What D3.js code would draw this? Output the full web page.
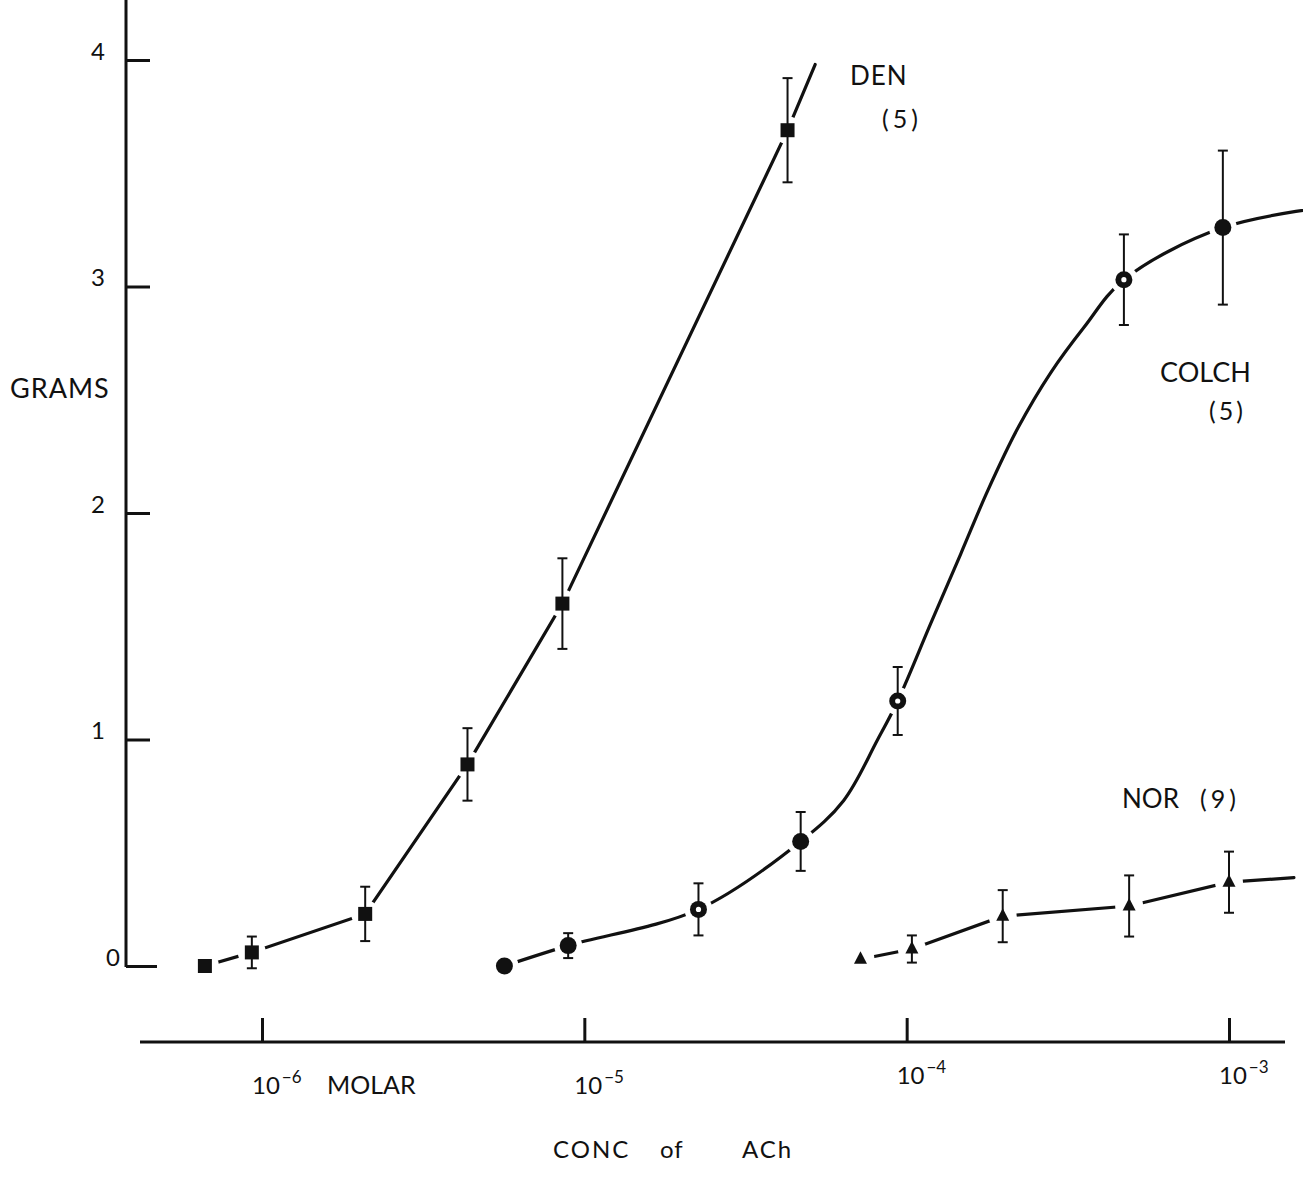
<!DOCTYPE html>
<html>
<head>
<meta charset="utf-8">
<script src="https://d3js.org/d3.v7.min.js"></script>
<style>
  body { margin: 0; background: #fff; }
  svg text { font-family: Lato, "Open Sans", sans-serif; fill: #111; }
</style>
</head>
<body>
<svg id="chart" width="1303" height="1185"></svg>
<script>

// DEN (5) -- squares
var den_conc  = [6.65e-7, 9.3e-7, 2.09e-6, 4.34e-6, 8.55e-6, 4.27e-5];
var den_grams = [0, 0.06, 0.23, 0.89, 1.60, 3.69];
var den_err   = [0, 0.07, 0.12, 0.16, 0.20, 0.23];
// drawn line (through the points, runs on past the last one)
var den_line_conc  = [6.65e-7, 9.3e-7, 2.09e-6, 4.34e-6, 8.55e-6, 4.27e-5, 5.2e-5];
var den_line_grams = [0, 0.06, 0.23, 0.89, 1.60, 3.69, 3.98];

// COLCH (5) -- circles
var colch_conc  = [5.65e-6, 8.91e-6, 2.26e-5, 4.69e-5, 9.38e-5, 4.72e-4, 9.57e-4];
var colch_grams = [0, 0.09, 0.25, 0.55, 1.17, 3.03, 3.26];
var colch_err   = [0, 0.055, 0.115, 0.13, 0.15, 0.20, 0.34];
var colch_hollow = [2, 4, 5];
// hand drawn curve
var colch_line_conc  = [5.65e-6, 8.91e-6, 2.26e-5, 4.69e-5, 6.37e-5, 8.13e-5, 9.38e-5, 1.186e-4,
                        1.472e-4, 1.786e-4, 2.213e-4, 2.80e-4, 3.55e-4, 4.72e-4, 9.57e-4, 2.23e-3];
var colch_line_grams = [0, 0.09, 0.25, 0.55, 0.73, 1.00, 1.17, 1.51,
                        1.82, 2.10, 2.375, 2.62, 2.82, 3.03, 3.26, 3.36];

// NOR (9) -- triangles
var nor_conc  = [7.19e-5, 1.038e-4, 1.986e-4, 4.90e-4, 1.0e-3];
var nor_grams = [0.03, 0.075, 0.22, 0.265, 0.37];
var nor_err   = [0, 0.06, 0.115, 0.135, 0.135];
var nor_line_conc  = [7.19e-5, 1.038e-4, 1.986e-4, 4.90e-4, 1.0e-3, 1.59e-3];
var nor_line_grams = [0.03, 0.075, 0.22, 0.265, 0.37, 0.39];

var y_ticks = [0, 1, 2, 3, 4];
var x_ticks = [1e-6, 1e-5, 1e-4, 1e-3];
var x_tick_exp = ["\u22126", "\u22125", "\u22124", "\u22123"];


var svg = d3.select("#chart");

var x = d3.scaleLog()
    .domain([1e-6, 1e-3])
    .range([262, 1229]);

var y = d3.scaleLinear()
    .domain([0, 4])
    .range([966, 60]);

var axis_x0 = 126;
var axis_y0 = 1042;

// y axis
svg.append("line")
    .attr("x1", axis_x0).attr("x2", axis_x0)
    .attr("y1", y(0) + 1).attr("y2", y(4.27))
    .attr("stroke", "#111").attr("stroke-width", 3);

var gy = svg.append("g")
    .attr("transform", "translate(" + axis_x0 + ",0)")
    .call(d3.axisLeft(y).tickValues(y_ticks).tickSize(-24).tickPadding(22).tickFormat(d3.format("d")));
gy.select(".domain").remove();
gy.selectAll(".tick line").attr("stroke", "#111").attr("stroke-width", 3)
    .attr("x2", function(d) { return d == 0 ? 31 : 24; });
gy.selectAll(".tick text")
    .attr("font-size", 24)
    .attr("font-family", "Lato, sans-serif")
    .attr("fill", "#111")
    .attr("dy", null)
    .attr("y", -1)
    .attr("x", function(d) { return d == 0 ? -6 : -21; });

svg.append("text")
    .attr("x", 10).attr("y", 398)
    .attr("font-size", 27)
    .attr("letter-spacing", 1)
    .text("GRAMS");

// x axis
svg.append("line")
    .attr("x1", 140).attr("x2", 1285)
    .attr("y1", axis_y0).attr("y2", axis_y0)
    .attr("stroke", "#111").attr("stroke-width", 3);

var gx = svg.append("g")
    .attr("transform", "translate(0," + axis_y0 + ")")
    .call(d3.axisBottom(x).tickValues(x_ticks).tickSize(-24).tickFormat(""));
gx.select(".domain").remove();
gx.selectAll(".tick line").attr("stroke", "#111").attr("stroke-width", 3);

var tick_label_y = [1094, 1094, 1084, 1084];
var xl = svg.selectAll(".xlab")
    .data(x_ticks)
    .enter()
    .append("text")
    .attr("class", "xlab")
    .attr("x", function(d) { return x(d) - 10; })
    .attr("y", function(d, i) { return tick_label_y[i]; })
    .attr("font-size", 24);
xl.append("tspan").text("10");
xl.append("tspan")
    .attr("dy", -11)
    .attr("dx", 2)
    .attr("font-size", 17)
    .text(function(d, i) { return x_tick_exp[i]; });

svg.append("text")
    .attr("x", 327).attr("y", 1094)
    .attr("font-size", 25)
    .text("MOLAR");

var xt = svg.append("text")
    .attr("y", 1158)
    .attr("font-size", 24)
    .attr("letter-spacing", 2);
xt.append("tspan").attr("x", 553).text("CONC");
xt.append("tspan").attr("x", 660).attr("letter-spacing", 1).text("of");
xt.append("tspan").attr("x", 742).text("ACh");


// series
function draw_series(line_conc, line_grams, conc, grams, err, shape, curve) {

  var pts = line_conc.map(function(c, i) { return [x(c), y(line_grams[i])]; });
  var line = d3.line().curve(curve);

  svg.append("path")
      .attr("d", line(pts))
      .attr("fill", "none")
      .attr("stroke", "#111")
      .attr("stroke-width", 3.2)
      .attr("stroke-linecap", "round");

  var dat = conc.map(function(c, i) {
    return {index: i, cx: x(c), cy: y(grams[i]), lo: y(grams[i] - err[i]), hi: y(grams[i] + err[i]), e: err[i]};
  });

  // gap in the line around each point
  svg.append("g").selectAll("circle")
      .data(dat)
      .enter()
      .append("circle")
      .attr("cx", function(d) { return d.cx; })
      .attr("cy", function(d) { return d.cy; })
      .attr("r", 14)
      .attr("fill", "#fff");

  var eb = svg.append("g")
      .attr("stroke", "#111")
      .attr("stroke-width", 2)
      .selectAll("g")
      .data(dat.filter(function(d) { return d.e > 0; }))
      .enter()
      .append("g");
  eb.append("line")
      .attr("x1", function(d) { return d.cx; }).attr("x2", function(d) { return d.cx; })
      .attr("y1", function(d) { return d.lo; }).attr("y2", function(d) { return d.hi; });
  eb.append("line")
      .attr("x1", function(d) { return d.cx - 5; }).attr("x2", function(d) { return d.cx + 5; })
      .attr("y1", function(d) { return d.lo; }).attr("y2", function(d) { return d.lo; });
  eb.append("line")
      .attr("x1", function(d) { return d.cx - 5; }).attr("x2", function(d) { return d.cx + 5; })
      .attr("y1", function(d) { return d.hi; }).attr("y2", function(d) { return d.hi; });

  var mk = svg.append("g").selectAll("g")
      .data(dat)
      .enter()
      .append("g")
      .attr("transform", function(d) { return "translate(" + d.cx + "," + d.cy + ")"; });

  if (shape == "square") {
    mk.append("rect")
        .attr("x", -7).attr("y", -7).attr("width", 14).attr("height", 14)
        .attr("fill", "#111");
  } else if (shape == "circle") {
    mk.append("circle").attr("r", 8.5).attr("fill", "#111");
    mk.filter(function(d) { return colch_hollow.indexOf(d.index) >= 0; })
        .append("circle").attr("r", 2.6).attr("fill", "#fff");
  } else {
    mk.append("path")
        .attr("d", "M0,-8 L6.5,4.5 L-6.5,4.5 Z")
        .attr("fill", "#111");
  }
}

draw_series(den_line_conc, den_line_grams, den_conc, den_grams, den_err, "square", d3.curveLinear);
draw_series(colch_line_conc, colch_line_grams, colch_conc, colch_grams, colch_err, "circle", d3.curveCatmullRom.alpha(0.5));
draw_series(nor_line_conc, nor_line_grams, nor_conc, nor_grams, nor_err, "triangle", d3.curveLinear);


// curve labels
var labels = [
  {x: 850, y: 85, txt: "DEN", size: 26, ls: 1},
  {x: 882, y: 128, txt: "(5)", size: 25, ls: 4},
  {x: 1160, y: 382, txt: "COLCH", size: 27, ls: 0},
  {x: 1209, y: 420, txt: "(5)", size: 25, ls: 3},
  {x: 1122, y: 808, txt: "NOR", size: 26, ls: 0},
  {x: 1200, y: 808, txt: "(9)", size: 25, ls: 4}
];

svg.selectAll(".lab")
    .data(labels)
    .enter()
    .append("text")
    .attr("class", "lab")
    .attr("x", function(d) { return d.x; })
    .attr("y", function(d) { return d.y; })
    .attr("font-size", function(d) { return d.size; })
    .attr("letter-spacing", function(d) { return d.ls; })
    .text(function(d) { return d.txt; });

</script>
</body>
</html>
